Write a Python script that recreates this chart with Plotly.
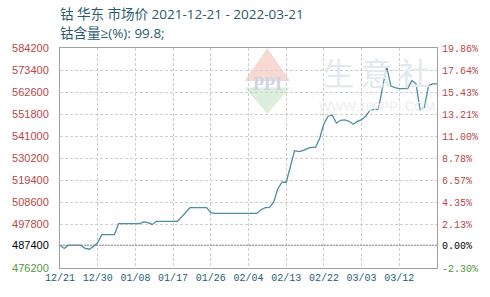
import datetime as dt
import plotly.graph_objects as go

start = dt.date(2021, 12, 21)
prices = [
    487400, 485800, 487400, 487400, 487400, 487400, 485800, 485400, 486800, 488700,
    492600, 492600, 492600, 492600, 498000, 498000, 498000, 498000, 498000, 498000,
    498800, 498500, 497600, 499100, 499100, 499100, 499100, 499100, 499100, 501200,
    503600, 505800, 505800, 505800, 505800, 505800, 503400, 503000,
    503000, 503000, 503000, 503000, 503000, 503000, 503000, 503000, 503000, 503000,
    504800, 505800, 506000, 508500, 515100, 518300, 518300, 525800, 533800, 533300,
    533800, 534800, 535400, 535400, 539900, 547000, 550700, 551200, 547300, 548700,
    548900, 548200, 546800, 548200, 549000, 550700, 553600, 554100, 554100, 564800,
    574900, 565500, 564700, 564300, 564300, 564300, 568200, 566600, 553400, 555200,
    565800, 566600, 566600,
]
dates = [start + dt.timedelta(days=i) for i in range(len(prices))]

base_price = 487400
y_tick_vals = [476200, 487400, 497800, 508600, 519400, 530200, 541000, 551800, 562600, 573400, 584200]
y_tick_left = ["476200", "487400", "497800", "508600", "519400", "530200", "541000", "551800", "562600", "573400", "584200"]
y_tick_right = ["-2.30%", "0.00%", "2.13%", "4.35%", "6.57%", "8.78%", "11.00%", "13.21%", "15.43%", "17.64%", "19.86%"]
x_tick_labels = ["12/21", "12/30", "01/08", "01/17", "01/26", "02/04", "02/13", "02/22", "03/03", "03/12"]
x_tick_vals = [start + dt.timedelta(days=9 * i) for i in range(len(x_tick_labels))]

RED = "#b9474a"
GREEN = "#4f9a45"
BLACK = "#000000"

def colored(labels):
    out = []
    for i, t in enumerate(labels):
        c = GREEN if i == 0 else (BLACK if i == 1 else RED)
        out.append(f'<span style="color:{c}">{t}</span>')
    return out

y_range = [476200, 584200]

fig = go.Figure()
fig.add_trace(go.Scatter(x=dates, y=prices, mode="lines",
                         line=dict(color="#4a8f9f", width=1.3), hoverinfo="skip"))
fig.add_trace(go.Scatter(x=[dates[0]], y=[base_price], yaxis="y2", mode="markers",
                         marker=dict(opacity=0), showlegend=False, hoverinfo="skip"))

# watermark
shapes = [
    dict(type="path", xref="paper", yref="paper",
         path="M 0.49,0.85 L 0.55,1.0 L 0.61,0.85 Z", fillcolor="#f8d8d2", line=dict(width=0), layer="below"),
    dict(type="path", xref="paper", yref="paper",
         path="M 0.49,0.82 L 0.55,0.70 L 0.61,0.82 Z", fillcolor="#dcefdc", line=dict(width=0), layer="below"),
    dict(type="line", xref="paper", yref="y", x0=0, x1=1, y0=base_price, y1=base_price,
         line=dict(color="#8a8a8a", width=1, dash="2px,1px")),
]
title_font = dict(family="Open Sans, Noto Sans CJK SC", size=13.5, color="#2a5b6b")
annotations = [
    dict(text="钴 华东 市场价 2021-12-21 - 2022-03-21", xref="paper", yref="paper", x=0, y=1,
         xanchor="left", yanchor="middle", xshift=-2, yshift=34, showarrow=False, font=title_font),
    dict(text="钴含量≥(%): 99.8;", xref="paper", yref="paper", x=0, y=1,
         xanchor="left", yanchor="middle", xshift=-2, yshift=15, showarrow=False, font=title_font),
    dict(text="<b>PPI</b>", xref="paper", yref="paper", x=0.55, y=0.835, xanchor="center", yanchor="middle",
         showarrow=False, font=dict(family="Liberation Serif", size=18, color="#ccd4e6")),
    dict(text="生 意 社", xref="paper", yref="paper", x=0.84, y=0.895, xanchor="center", yanchor="middle",
         showarrow=False, font=dict(family="Noto Sans CJK SC", size=31, color="#e3e7ee")),
    dict(text="WWW.100PPI.COM", xref="paper", yref="paper", x=0.84, y=0.735, xanchor="center", yanchor="middle",
         showarrow=False, font=dict(family="Liberation Sans", size=13, color="#eceef2")),
]

grid = dict(showgrid=True, gridcolor="#cfcfcf", griddash="3px,2px", gridwidth=1)

fig.update_layout(
    width=490, height=297,
    margin=dict(l=51, r=50, t=48, b=29),
    paper_bgcolor="white", plot_bgcolor="white",
    showlegend=False,
    shapes=shapes, annotations=annotations,
    xaxis=dict(type="date", range=[dates[0], dates[-1]], tickvals=x_tick_vals, ticktext=x_tick_labels,
               tickfont=dict(family="Liberation Mono", size=10, color="#1e5f74"),
               showline=True, linecolor="#a0a0a0", mirror=True, ticks="", ticklen=0, **grid),
    yaxis=dict(range=y_range, tickvals=y_tick_vals, ticktext=colored(y_tick_left),
               tickfont=dict(family="Liberation Sans", size=11, color=RED),
               showline=True, linecolor="#a0a0a0", mirror=True, ticks="", zeroline=False,
               ticklabelstandoff=8, **grid),
    yaxis2=dict(range=y_range, tickvals=y_tick_vals, ticktext=colored(y_tick_right),
                overlaying="y", side="right", showgrid=False, zeroline=False,
                tickfont=dict(family="Liberation Mono", size=10, color=RED),
                ticklabelstandoff=4),
)

fig.write_html("out.html")
